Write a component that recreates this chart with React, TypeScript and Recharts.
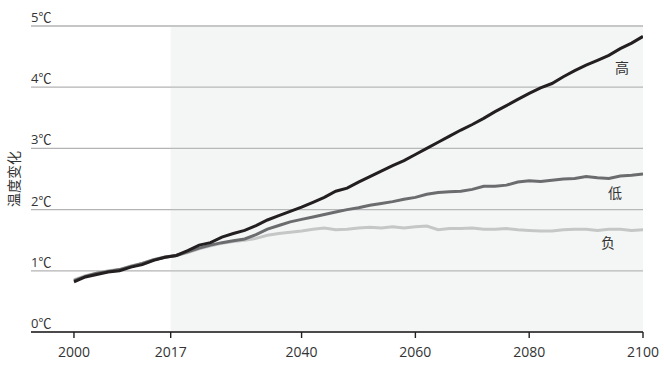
import React from 'react';
import { LineChart, Line, XAxis, YAxis, CartesianGrid, ReferenceArea } from 'recharts';

const years = [
  2000, 2002, 2004, 2006, 2008, 2010, 2012, 2014, 2016, 2018,
  2020, 2022, 2024, 2026, 2028, 2030, 2032, 2034, 2036, 2038,
  2040, 2042, 2044, 2046, 2048, 2050, 2052, 2054, 2056, 2058,
  2060, 2062, 2064, 2066, 2068, 2070, 2072, 2074, 2076, 2078,
  2080, 2082, 2084, 2086, 2088, 2090, 2092, 2094, 2096, 2098, 2100,
];

const high = [
  0.82, 0.90, 0.94, 0.98, 1.00, 1.06, 1.10, 1.17, 1.22, 1.25,
  1.33, 1.42, 1.46, 1.55, 1.61, 1.66, 1.74, 1.83, 1.90, 1.97,
  2.04, 2.12, 2.20, 2.30, 2.35, 2.45, 2.54, 2.63, 2.72, 2.80,
  2.90, 3.00, 3.10, 3.20, 3.30, 3.39, 3.49, 3.60, 3.70, 3.80,
  3.90, 3.99, 4.06, 4.17, 4.27, 4.36, 4.44, 4.52, 4.63, 4.72, 4.83,
];

const low = [
  0.84, 0.91, 0.96, 0.99, 1.02, 1.07, 1.12, 1.18, 1.22, 1.25,
  1.31, 1.37, 1.42, 1.46, 1.49, 1.52, 1.59, 1.68, 1.74, 1.80,
  1.84, 1.88, 1.92, 1.96, 2.00, 2.03, 2.07, 2.10, 2.13, 2.17,
  2.20, 2.25, 2.28, 2.29, 2.30, 2.33, 2.38, 2.38, 2.40, 2.45,
  2.47, 2.46, 2.48, 2.50, 2.51, 2.54, 2.52, 2.51, 2.55, 2.56, 2.58,
];

const negative = [
  0.85, 0.92, 0.96, 1.00, 1.02, 1.08, 1.12, 1.18, 1.23, 1.25,
  1.30, 1.36, 1.41, 1.45, 1.48, 1.50, 1.53, 1.58, 1.61, 1.63,
  1.65, 1.68, 1.70, 1.67, 1.68, 1.70, 1.71, 1.70, 1.72, 1.70,
  1.72, 1.73, 1.67, 1.69, 1.69, 1.70, 1.68, 1.68, 1.69, 1.67,
  1.66, 1.65, 1.65, 1.67, 1.68, 1.68, 1.66, 1.68, 1.68, 1.66, 1.67,
];

const xTicks = [2000, 2017, 2040, 2060, 2080, 2100];
const yTicks = [0, 1, 2, 3, 4, 5];
const projectionStart = 2017;

const data = years.map((year, i) => ({
  year,
  high: high[i],
  low: low[i],
  negative: negative[i],
}));

const FONT = '"Open Sans", "Noto Sans CJK SC", sans-serif';
const TEXT = '#333333';
const last = years.length - 1;

const endLabel = (text: string, dx: number, dy: number) => (props: any) => {
  if (props.index !== last) return null;
  return (
    <text
      x={props.x + dx}
      y={props.y + dy}
      textAnchor="middle"
      dominantBaseline="central"
      fontSize={14}
      fill={TEXT}
      fontFamily={FONT}
    >
      {text}
    </text>
  );
};

const YTick = (props: any) => {
  const { y, payload } = props;
  return (
    <text x={31} y={y - 4} fontSize={13} fill={TEXT} fontFamily={FONT}>
      {`${payload.value}℃`}
    </text>
  );
};

const YTitle = (props: any) => {
  const vb = props.viewBox;
  const cy = vb.y + vb.height / 2;
  return (
    <text
      x={13}
      y={cy}
      transform={`rotate(-90 13 ${cy})`}
      textAnchor="middle"
      dominantBaseline="central"
      fontSize={14}
      fill={TEXT}
      fontFamily={FONT}
    >
      温度变化
    </text>
  );
};

export default function App() {
  return (
    <div style={{ position: 'absolute', left: 0, top: 0, width: 664, height: 375, background: '#fff' }}>
      <LineChart
        width={664}
        height={375}
        data={data}
        margin={{ top: 26, right: 21, left: 0, bottom: 0 }}
      >
        <ReferenceArea
          x1={projectionStart}
          x2={2100}
          y1={0}
          y2={5}
          fill="#c8d2d2"
          fillOpacity={0.2}
          stroke="none"
        />
        <CartesianGrid vertical={false} stroke="#b3b3b3" strokeWidth={1.3} />
        <XAxis
          dataKey="year"
          type="number"
          domain={[1992.45, 2100]}
          allowDataOverflow
          ticks={xTicks}
          height={43}
          axisLine={{ stroke: '#231f20', strokeWidth: 1.6 }}
          tickLine={{ stroke: '#231f20', strokeWidth: 1.4 }}
          tickSize={6}
          tickMargin={9}
          tick={{ fontSize: 14, fill: TEXT, fontFamily: FONT }}
        />
        <YAxis
          domain={[0, 5]}
          ticks={yTicks}
          width={31}
          axisLine={false}
          tickLine={false}
          tick={<YTick />}
          label={{ content: <YTitle /> }}
        />
        <Line
          dataKey="negative"
          stroke="#c5c7c7"
          strokeWidth={3}
          dot={false}
          isAnimationActive={false}
          label={endLabel('负', -35, 13)}
        />
        <Line
          dataKey="low"
          stroke="#6b6c6e"
          strokeWidth={3}
          dot={false}
          isAnimationActive={false}
          label={endLabel('低', -28, 18)}
        />
        <Line
          dataKey="high"
          stroke="#231f20"
          strokeWidth={3}
          dot={false}
          isAnimationActive={false}
          label={endLabel('高', -21, 31)}
        />
      </LineChart>
    </div>
  );
}
